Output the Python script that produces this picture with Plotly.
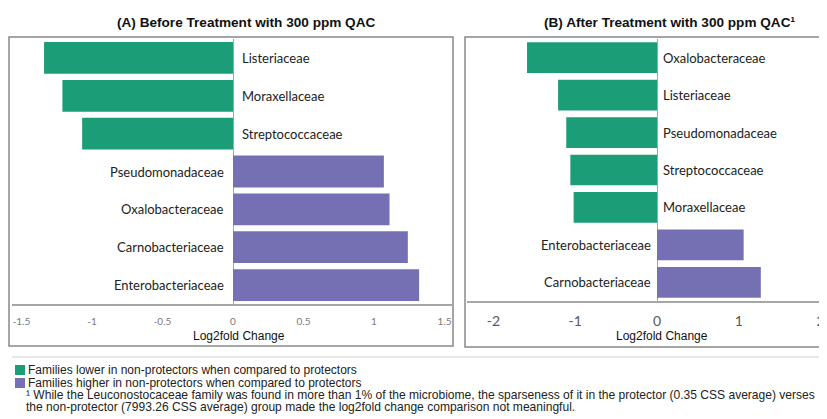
import plotly.graph_objects as go

# The page body adds an 8px margin; the figure is sized to the remaining area
OFF = 8
W, H = 827 - OFF, 419 - OFF

# ---------------- data ----------------
families_a = ["Listeriaceae", "Moraxellaceae", "Streptococcaceae", "Pseudomonadaceae",
              "Oxalobacteraceae", "Carnobacteriaceae", "Enterobacteriaceae"]
log2fc_a = [-1.34, -1.21, -1.07, 1.07, 1.11, 1.24, 1.32]

families_b = ["Oxalobacteraceae", "Listeriaceae", "Pseudomonadaceae", "Streptococcaceae",
              "Moraxellaceae", "Enterobacteriaceae", "Carnobacteriaceae"]
log2fc_b = [-1.59, -1.21, -1.11, -1.06, -1.02, 1.06, 1.27]

ticks_a = [-1.5, -1, -0.5, 0, 0.5, 1, 1.5]
ticks_b = [-2, -1, 0, 1, 2]

title_a = "(A) Before Treatment with 300 ppm QAC"
title_b = "(B) After Treatment with 300 ppm QAC\u00b9"
axis_title = "Log2fold Change"
legend_lower = "Families lower in non-protectors when compared to protectors"
legend_higher = "Families higher in non-protectors when compared to protectors"
footnote_1 = ("\u00b9 While the Leuconostocaceae family was found in more than 1% of the microbiome, "
              "the sparseness of it in the protector (0.35 CSS average) verses")
footnote_2 = ("the non-protector (7993.26 CSS average) group made the log2fold change "
              "comparison not meaningful.")

GREEN = "#1b9e77"
PURPLE = "#7570b3"


def px(x):
    return (x - OFF) / W


def py(y):
    return 1 - (y - OFF) / H


def colors(vals):
    return [GREEN if v < 0 else PURPLE for v in vals]


fig = go.Figure()

fig.add_trace(go.Bar(x=log2fc_a, y=families_a, orientation="h", xaxis="x", yaxis="y",
                     marker=dict(color=colors(log2fc_a), line=dict(width=0)),
                     width=0.84, showlegend=False, hoverinfo="x+y"))
fig.add_trace(go.Bar(x=log2fc_b, y=families_b, orientation="h", xaxis="x2", yaxis="y2",
                     marker=dict(color=colors(log2fc_b), line=dict(width=0)),
                     width=0.82, showlegend=False, hoverinfo="x+y"))

label_font = dict(family="Lato, Carlito, Calibri, sans-serif", size=13, color="#222")

annotations = []
for fams, vals, xr, yr, gap in [(families_a, log2fc_a, "x", "y", 7),
                                (families_b, log2fc_b, "x2", "y2", 4)]:
    for f, v in zip(fams, vals):
        annotations.append(dict(x=0, y=f, xref=xr, yref=yr, text=f, showarrow=False,
                                xanchor="left" if v < 0 else "right",
                                xshift=gap if v < 0 else -gap,
                                font=label_font))

title_font = dict(family="Arial, Liberation Sans, sans-serif", size=13.6, color="#111")
annotations.append(dict(x=px(246), y=py(23), xref="paper", yref="paper", text="<b>" + title_a + "</b>",
                        showarrow=False, xanchor="center", yanchor="middle", font=title_font))
annotations.append(dict(x=px(669), y=py(23), xref="paper", yref="paper", text="<b>" + title_b + "</b>",
                        showarrow=False, xanchor="center", yanchor="middle", font=title_font))

at_font = dict(family="Arial, Liberation Sans, sans-serif", size=12, color="#111")
annotations.append(dict(x=px(239), y=py(336), xref="paper", yref="paper", text=axis_title,
                        showarrow=False, xanchor="center", yanchor="middle", font=at_font))
annotations.append(dict(x=px(662), y=py(336), xref="paper", yref="paper", text=axis_title,
                        showarrow=False, xanchor="center", yanchor="middle", font=at_font))

leg_font = dict(family="Arial, Liberation Sans, sans-serif", size=12, color="#222")
foot_font = dict(family="Arial, Liberation Sans, sans-serif", size=12.05, color="#222")
legend_rows = [(legend_lower, GREEN, 370), (legend_higher, PURPLE, 383)]
shapes = []
for txt, col, yy in legend_rows:
    shapes.append(dict(type="rect", xref="paper", yref="paper", x0=px(15), x1=px(25),
                       y0=py(yy + 5), y1=py(yy - 5), fillcolor=col, line=dict(width=0)))
    annotations.append(dict(x=px(26), y=py(yy), xref="paper", yref="paper", text=txt,
                            showarrow=False, xanchor="left", yanchor="middle", font=leg_font))
for txt, yy in [(footnote_1, 395), (footnote_2, 407)]:
    annotations.append(dict(x=px(24), y=py(yy), xref="paper", yref="paper", text=txt,
                            showarrow=False, xanchor="left", yanchor="middle", font=foot_font))

# frames and separator
frame = dict(color="#888888", width=1.5)
shapes.append(dict(type="rect", xref="paper", yref="paper", x0=px(9), x1=px(453),
                   y0=py(346), y1=py(37), line=frame))
shapes.append(dict(type="rect", xref="paper", yref="paper", x0=px(465), x1=px(832),
                   y0=py(347), y1=py(37), line=frame))
shapes.append(dict(type="line", xref="paper", yref="paper", x0=px(12), x1=px(827),
                   y0=py(357), y1=py(357), line=dict(color="#cfcfcf", width=1.2)))

# axes geometry (pixel positions in the page)
zero_a, unit_a = 233, 141.0
dom_a = (12, 452)
zero_b, unit_b = 657, 81.75
dom_b = (467, 827)

fig.update_layout(
    width=W, height=H, margin=dict(l=0, r=0, t=0, b=0),
    paper_bgcolor="white", plot_bgcolor="white",
    bargap=0.16,
    xaxis=dict(domain=[px(dom_a[0]), px(dom_a[1])],
               range=[(dom_a[0] - zero_a) / unit_a, (dom_a[1] - zero_a) / unit_a],
               tickvals=ticks_a, ticktext=[f"{t:g}" for t in ticks_a],
               tickfont=dict(family="Lato, Carlito, sans-serif", size=10, color="#7a7a7a"),
               showgrid=False, zeroline=True, zerolinecolor="#a6a6a6", zerolinewidth=1,
               showline=True, linecolor="#a6a6a6", linewidth=1.5, ticks="",
               ticklabelstandoff=7, anchor="y", fixedrange=True),
    yaxis=dict(domain=[py(304), py(39)], type="category",
               categoryorder="array", categoryarray=families_a,
               autorange="reversed", showticklabels=False, showgrid=False,
               showline=False, zeroline=False, anchor="x", fixedrange=True),
    xaxis2=dict(domain=[px(dom_b[0]), 1.0],
                range=[(dom_b[0] - zero_b) / unit_b, (dom_b[1] - zero_b) / unit_b],
                tickvals=ticks_b, ticktext=[f"{t:g}" for t in ticks_b],
                tickfont=dict(family="Lato, Carlito, sans-serif", size=14, color="#595959"),
                showgrid=False, zeroline=True, zerolinecolor="#a6a6a6", zerolinewidth=1,
                showline=True, linecolor="#a6a6a6", linewidth=1.5, ticks="",
                ticklabelstandoff=6, anchor="y2", fixedrange=True),
    yaxis2=dict(domain=[py(301), py(39)], type="category",
                categoryorder="array", categoryarray=families_b,
                autorange="reversed", showticklabels=False, showgrid=False,
                showline=False, zeroline=False, anchor="x2", fixedrange=True),
    annotations=annotations,
    shapes=shapes,
)

fig.write_html("out.html")
